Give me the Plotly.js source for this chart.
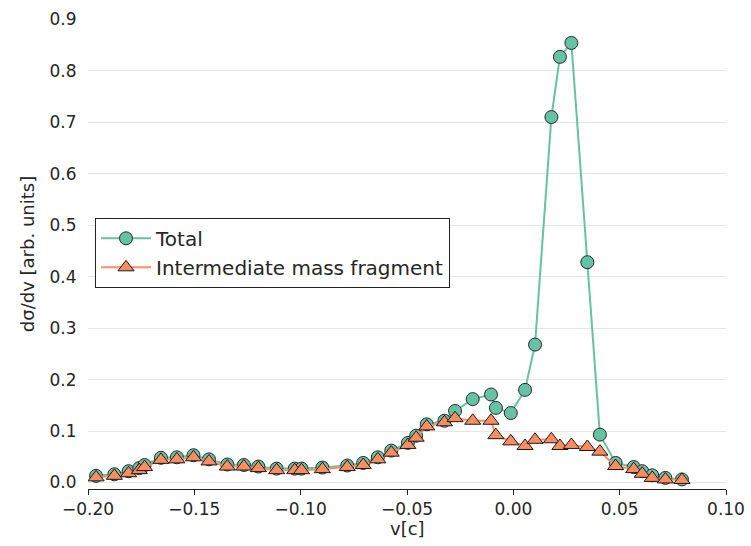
<!DOCTYPE html>
<html>
<head>
<meta charset="utf-8">
<script src="https://cdn.plot.ly/plotly-3.0.1.min.js"></script>
<style>html,body{margin:0;padding:0;background:#fff;}#chart{width:751px;height:546px;}</style>
</head>
<body>
<div id="chart"></div>
<script>
const velocity = [-0.1962, -0.1876, -0.1809, -0.1759, -0.1734, -0.1657, -0.1582, -0.1504, -0.1431, -0.1345,
  -0.1267, -0.1199, -0.1113, -0.1028, -0.0996, -0.0898, -0.0781, -0.0706, -0.0637, -0.0574,
  -0.0496, -0.0457, -0.0407, -0.0324, -0.0274, -0.0191, -0.0105, -0.0082, -0.0012, 0.0055,
  0.0102, 0.0179, 0.0219, 0.0273, 0.0348, 0.0407, 0.0481, 0.0566, 0.0606, 0.0653, 0.0715, 0.0793];
const totalValues = [0.013, 0.016, 0.022, 0.028, 0.034, 0.048, 0.049, 0.053, 0.045, 0.035,
  0.034, 0.031, 0.027, 0.027, 0.027, 0.029, 0.033, 0.038, 0.049, 0.062,
  0.077, 0.091, 0.113, 0.120, 0.139, 0.162, 0.171, 0.145, 0.135, 0.180,
  0.268, 0.710, 0.827, 0.854, 0.428, 0.093, 0.038, 0.030, 0.022, 0.014, 0.009, 0.006];
const imfValues = [0.010, 0.013, 0.018, 0.024, 0.030, 0.044, 0.045, 0.049, 0.041, 0.031,
  0.031, 0.028, 0.024, 0.024, 0.024, 0.026, 0.030, 0.034, 0.045, 0.058,
  0.073, 0.087, 0.109, 0.117, 0.125, 0.120, 0.120, 0.092, 0.080, 0.071,
  0.083, 0.084, 0.071, 0.073, 0.069, 0.060, 0.032, 0.026, 0.017, 0.009, 0.006, 0.005];
const seriesNames = ["Total", "Intermediate mass fragment"];
const xTitle = "v[c]";
const yTitle = "dσ/dv [arb. units]";
const xTickValues = [-0.20, -0.15, -0.10, -0.05, 0.00, 0.05, 0.10];
const yTickValues = [0.0, 0.1, 0.2, 0.3, 0.4, 0.5, 0.6, 0.7, 0.8, 0.9];

const font = "DejaVu Sans, sans-serif";
const traces = [
  {x: velocity, y: totalValues, name: seriesNames[0], type: "scatter", mode: "lines+markers",
   line: {color: "#66c2a5", width: 2},
   marker: {symbol: "circle", size: 13, color: "#66c2a5", line: {color: "#2a2a2a", width: 1}}},
  {x: velocity, y: imfValues, name: seriesNames[1], type: "scatter", mode: "lines+markers",
   line: {color: "#fc8d62", width: 2},
   marker: {symbol: "triangle-up", size: 14, color: "#fc8d62", line: {color: "#1a1a1a", width: 1}}}
];
const layout = {
  width: 751, height: 546,
  margin: {l: 88, r: 25, t: 19, b: 57},
  paper_bgcolor: "#ffffff", plot_bgcolor: "#ffffff",
  font: {family: font, size: 17, color: "#262626"},
  showlegend: true,
  legend: {x: 0.011, y: 0.577, xanchor: "left", yanchor: "top", bgcolor: "#ffffff",
    bordercolor: "#222222", borderwidth: 1, itemwidth: 50,
    font: {family: font, size: 20, color: "#262626"}},
  xaxis: {range: [-0.2, 0.1], tickvals: xTickValues, tickformat: ".2f", showgrid: false, zeroline: false,
    showline: true, linecolor: "#222222", linewidth: 1, ticks: "outside", ticklen: 5, tickcolor: "#222222",
    tickfont: {family: font, size: 17, color: "#262626"}},
  yaxis: {range: [-0.0126, 0.9005], tickvals: yTickValues, tickformat: ".1f", showgrid: true, gridcolor: "#e6e6e6",
    gridwidth: 1, zeroline: false, showline: false, ticks: "outside", ticklen: 7, tickcolor: "rgba(0,0,0,0)",
    tickfont: {family: font, size: 17, color: "#262626"},
    title: {text: yTitle, font: {family: font, size: 18, color: "#262626"}, standoff: 10}},
  annotations: [{text: xTitle, xref: "paper", yref: "paper", x: 0.5, y: -0.084, xanchor: "center", yanchor: "middle",
    showarrow: false, font: {family: font, size: 18, color: "#262626"}}]
};
Plotly.newPlot("chart", traces, layout, {displayModeBar: false, staticPlot: true});
</script>
</body>
</html>
